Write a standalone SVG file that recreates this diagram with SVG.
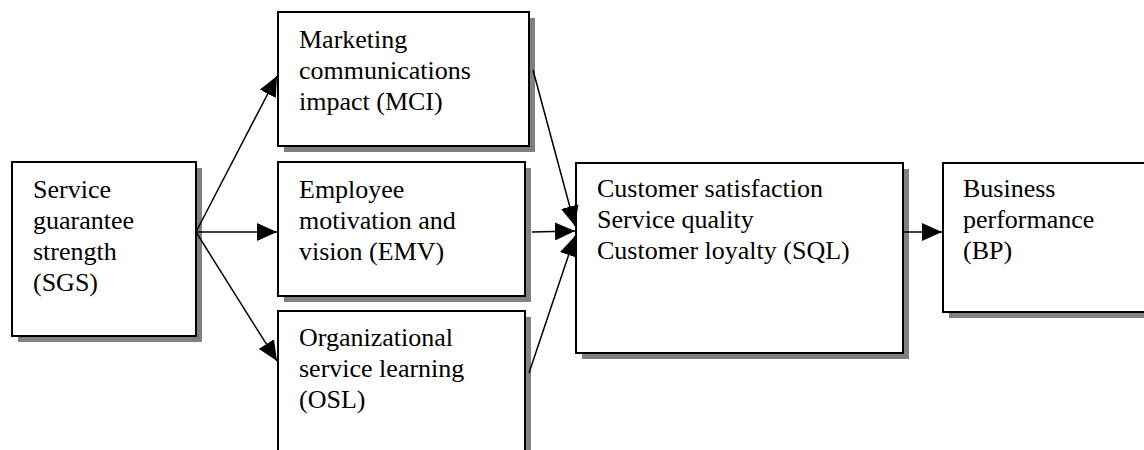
<svg xmlns="http://www.w3.org/2000/svg" width="1144" height="450" viewBox="0 0 1144 450">
<style>
.shadow{fill:#808080;stroke:none}
.box{fill:#ffffff;stroke:#000000;stroke-width:2}
.lbl{font-size:26px;fill:#000000}
.conn{stroke:#000000;stroke-width:1.5;fill:none;marker-end:url(#arrow)}
</style>
<defs>
<marker id="arrow" markerUnits="userSpaceOnUse" markerWidth="20" markerHeight="18" refX="20" refY="9" orient="auto">
<path d="M0,0 L20,9 L0,18 Z" fill="#000000"/>
</marker>
</defs>
<rect width="1144" height="450" fill="#ffffff"/>
<g font-family="'Liberation Serif', 'Times New Roman', Tinos, 'DejaVu Serif', serif">
<g id="node-sgs">
<rect class="shadow" x="18" y="168" width="184" height="174"/>
<rect class="box" x="12" y="162" width="184" height="174"/>
<text class="lbl" x="33" y="198">Service</text>
<text class="lbl" x="33" y="229">guarantee</text>
<text class="lbl" x="33" y="260">strength</text>
<text class="lbl" x="33" y="291">(SGS)</text>
</g>
<g id="node-mci">
<rect class="shadow" x="284" y="18" width="251" height="134"/>
<rect class="box" x="278" y="12" width="251" height="134"/>
<text class="lbl" x="299" y="48">Marketing</text>
<text class="lbl" x="299" y="79">communications</text>
<text class="lbl" x="299" y="110">impact (MCI)</text>
</g>
<g id="node-emv">
<rect class="shadow" x="284" y="168" width="247" height="134"/>
<rect class="box" x="278" y="162" width="247" height="134"/>
<text class="lbl" x="299" y="198">Employee</text>
<text class="lbl" x="299" y="229">motivation and</text>
<text class="lbl" x="299" y="260">vision (EMV)</text>
</g>
<g id="node-osl">
<rect class="shadow" x="284" y="317" width="247" height="160"/>
<rect class="box" x="278" y="311" width="247" height="160"/>
<text class="lbl" x="299" y="346">Organizational</text>
<text class="lbl" x="299" y="377">service learning</text>
<text class="lbl" x="299" y="408">(OSL)</text>
</g>
<g id="node-sql">
<rect class="shadow" x="582" y="169" width="327" height="190"/>
<rect class="box" x="576" y="163" width="327" height="190"/>
<text class="lbl" x="597" y="197">Customer satisfaction</text>
<text class="lbl" x="597" y="228">Service quality</text>
<text class="lbl" x="597" y="259">Customer loyalty (SQL)</text>
</g>
<g id="node-bp">
<rect class="shadow" x="949" y="169" width="220" height="149"/>
<rect class="box" x="943" y="163" width="220" height="149"/>
<text class="lbl" x="963" y="197">Business</text>
<text class="lbl" x="963" y="228">performance</text>
<text class="lbl" x="963" y="259">(BP)</text>
</g>
</g>
<g id="connectors">
<line class="conn" x1="196" y1="232" x2="277" y2="76"/>
<line class="conn" x1="196" y1="232" x2="277" y2="232"/>
<line class="conn" x1="196" y1="232" x2="277" y2="361"/>
<line class="conn" x1="533" y1="70" x2="575" y2="226"/>
<line class="conn" x1="532" y1="232" x2="575" y2="231"/>
<line class="conn" x1="529" y1="373" x2="575" y2="236"/>
<line class="conn" x1="903" y1="232" x2="942" y2="232"/>
</g>
</svg>
